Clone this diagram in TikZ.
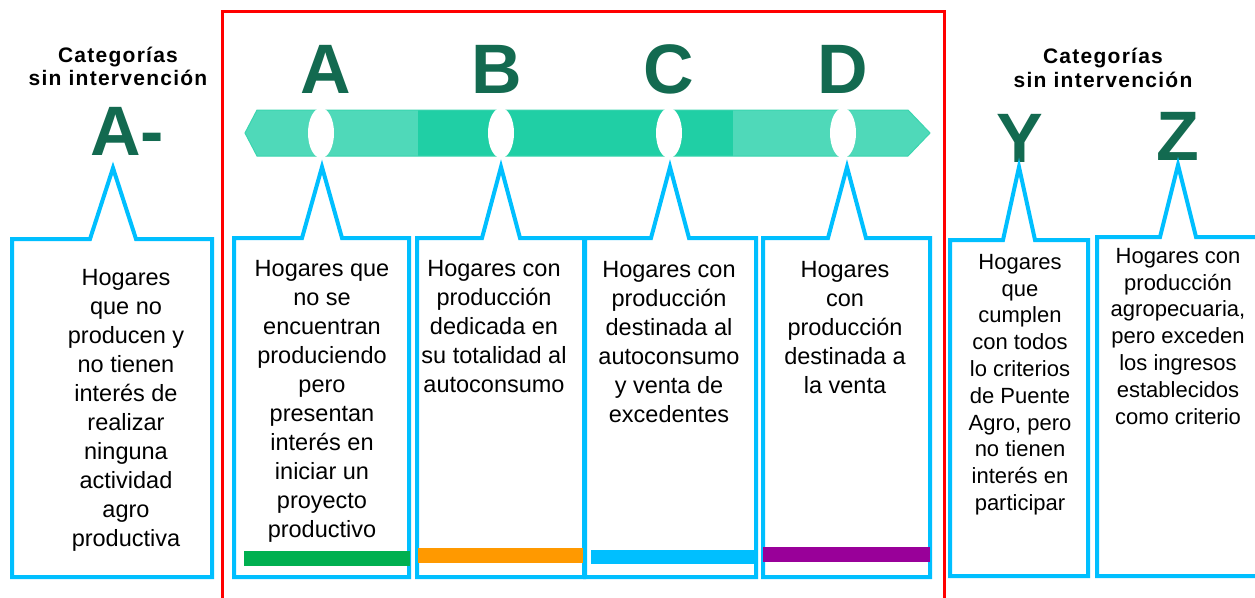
\documentclass[tikz,border=0pt]{standalone}
\usepackage{fontspec}
\setmainfont{Liberation Sans}
\newfontfamily\catfont[LetterSpace=6]{Liberation Sans}
\definecolor{dkgreen}{HTML}{136A50}
\definecolor{barlight}{HTML}{4FD9B9}
\definecolor{bardark}{HTML}{20CFA5}
\definecolor{baredge}{HTML}{3AD5AF}
\definecolor{cyanline}{HTML}{00BFFF}
\definecolor{gbar}{HTML}{00B050}
\definecolor{obar}{HTML}{FF9900}
\definecolor{bbar}{HTML}{00BFFF}
\definecolor{pbar}{HTML}{990099}
\newcommand{\mycallout}[7]{%
  \draw[callbox] (#1,#2) -- ({#5-#7},#2) -- (#5,#6) -- ({#5+#7},#2) -- (#3,#2) -- (#3,#4) -- (#1,#4) -- cycle;}
\begin{document}
\begin{tikzpicture}[x=1pt,y=-1pt,
  callbox/.style={draw=cyanline, line width=4pt, line join=miter},
  boxtxt/.style={font=\fontsize{23.5}{29}\selectfont, align=center, inner sep=0pt, anchor=north},
  smalltxt/.style={font=\fontsize{22}{26.8}\selectfont, align=center, inner sep=0pt, anchor=north},
  bigletter/.style={font=\fontsize{70}{70}\selectfont\bfseries, text=dkgreen, inner sep=0pt, anchor=base},
  cattxt/.style={font=\catfont\fontsize{21}{23.5}\selectfont\bfseries, align=center, inner sep=0pt, anchor=base}]
\useasboundingbox (0,0) rectangle (1255,597);
\fill[white] (0,0) rectangle (1255,597);

% red frame
\draw[red, line width=3pt] (222,620) -- (222,11) -- (944,11) -- (944,620);

% arrow bar
\begin{scope}
  \clip (245,133) -- (257,110) -- (908,110) -- (930,133) -- (908,156) -- (257,156) -- cycle;
  \fill[barlight] (240,105) rectangle (418,160);
  \fill[bardark] (418,105) rectangle (733,160);
  \fill[barlight] (733,105) rectangle (935,160);
\end{scope}
\draw[baredge, line width=1pt] (245,133) -- (257,110) -- (908,110) -- (930,133) -- (908,156) -- (257,156) -- cycle;
\foreach \cx in {321,501,669,843}
  \fill[white] (\cx,133) ellipse [x radius=13, y radius=25];

% headings
\node[cattxt] (catL1) at (118,62) {Categorías};
\node[cattxt] (catL2) at (118,85) {sin intervención};
\node[cattxt] (catR1) at (1103,63) {Categorías};
\node[cattxt] (catR2) at (1103,87) {sin intervención};

% big letters
\node[bigletter] (LAm) at (127,155) {A-};
\node[bigletter] (LA) at (326,93) {A};
\node[bigletter] (LB) at (497,93) {B};
\node[bigletter] (LC) at (669,93) {C};
\node[bigletter] (LD) at (843,93) {D};
\node[bigletter] (LY) at (1020,162) {Y};
\node[bigletter] (LZ) at (1178,160) {Z};

% callout boxes
\mycallout{12}{239}{212}{577}{113}{168}{23}
\mycallout{234}{238}{409}{577}{322}{167}{20}
\mycallout{417}{238}{584}{577}{501}{167}{19}
\mycallout{585}{238}{756}{577}{670}{167}{19}
\mycallout{763}{238}{930}{577}{847}{167}{19}
\mycallout{950}{240}{1088}{576}{1019}{167}{16}
\mycallout{1097}{237}{1265}{576}{1178}{165}{18}

% coloured bars
\fill[gbar] (244,551) rectangle (410,566);
\fill[obar] (418,548) rectangle (583,563);
\fill[bbar] (591,550) rectangle (756,564);
\fill[pbar] (763,547) rectangle (930,562);

% texts
\node[boxtxt] (tAm) at (126,269) {Hogares\\que no\\producen y\\no tienen\\interés de\\realizar\\ninguna\\actividad\\agro\\productiva};
\node[boxtxt] (tA) at (322,260) {Hogares que\\no se\\encuentran\\produciendo\\pero\\presentan\\interés en\\iniciar un\\proyecto\\productivo};
\node[boxtxt] (tB) at (494,260) {Hogares con\\producción\\dedicada en\\su totalidad al\\autoconsumo};
\node[boxtxt] (tC) at (669,261) {Hogares con\\producción\\destinada al\\autoconsumo\\y venta de\\excedentes};
\node[boxtxt] (tD) at (845,261) {Hogares\\con\\producción\\destinada a\\la venta};
\node[smalltxt] (tY) at (1020,254) {Hogares\\que\\cumplen\\con todos\\lo criterios\\de Puente\\Agro, pero\\no tienen\\interés en\\participar};
\node[smalltxt] (tZ) at (1178,248) {Hogares con\\producción\\agropecuaria,\\pero exceden\\los ingresos\\establecidos\\como criterio};
\end{tikzpicture}
\end{document}
